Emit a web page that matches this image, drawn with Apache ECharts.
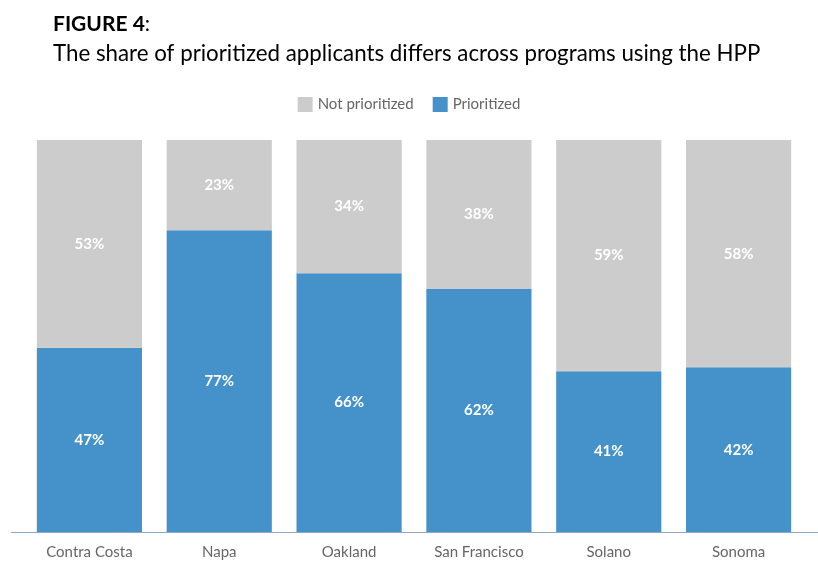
<!DOCTYPE html>
<html>
<head>
<meta charset="utf-8">
<script src="https://cdn.jsdelivr.net/npm/echarts@6/dist/echarts.min.js"></script>
<style>
html,body{margin:0;padding:0;background:#fff;}
#chart{width:818px;height:584px;}
</style>
</head>
<body>
<div id="chart"></div>
<script>
// programmes using the HPP
var categories = ['Contra Costa', 'Napa', 'Oakland', 'San Francisco', 'Solano', 'Sonoma'];
// share of applicants, percent
var prioritized = [47, 77, 66, 62, 41, 42];
var notPrioritized = [53, 23, 34, 38, 59, 58];

var chart = echarts.init(document.getElementById('chart'));
var option = {
    animation: false,
    textStyle: {fontFamily: 'Lato'},
    title: [
        {
            text: '{b|FIGURE 4}:',
            left: 48,
            top: 9,
            textStyle: {
                fontSize: 21,
                fontWeight: 'normal',
                color: '#000',
                rich: {b: {fontSize: 21, fontWeight: 'bold', color: '#000'}}
            }
        },
        {
            text: 'The share of prioritized applicants differs across programs using the HPP',
            left: 48,
            top: 38,
            textStyle: {fontSize: 22.3, fontWeight: 'normal', color: '#000'}
        }
    ],
    legend: {
        data: ['Not prioritized', 'Prioritized'],
        left: 'center',
        top: 92,
        icon: 'rect',
        itemWidth: 15,
        itemHeight: 15,
        itemGap: 19,
        textStyle: {fontSize: 15, color: '#666'}
    },
    grid: {left: 24.5, width: 779, top: 140, bottom: 52},
    xAxis: {
        type: 'category',
        data: categories,
        axisLine: {show: false},
        axisTick: {show: false},
        axisLabel: {fontSize: 15, color: '#666', margin: 13}
    },
    yAxis: {
        type: 'value',
        min: 0,
        max: 100,
        show: false,
        splitLine: {show: false}
    },
    series: [
        {
            name: 'Prioritized',
            type: 'bar',
            stack: 'all',
            barWidth: '81%',
            data: prioritized,
            itemStyle: {color: '#4591C9'},
            label: {show: true, position: 'inside', formatter: '{c}%', color: '#fff', fontWeight: 'bold', fontSize: 15}
        },
        {
            name: 'Not prioritized',
            type: 'bar',
            stack: 'all',
            barWidth: '81%',
            data: notPrioritized,
            itemStyle: {color: '#CCCCCC'},
            label: {show: true, position: 'inside', formatter: '{c}%', color: '#fff', fontWeight: 'bold', fontSize: 15}
        }
    ],
    graphic: [
        {
            type: 'line',
            shape: {x1: 11, y1: 532.5, x2: 818, y2: 532.5},
            style: {stroke: '#8FA9C4', lineWidth: 1.2}
        }
    ]
};
chart.setOption(option);
</script>
</body>
</html>
